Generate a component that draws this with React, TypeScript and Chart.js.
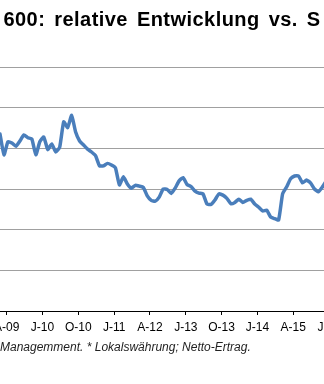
import { useEffect, useRef } from 'react';
import { Chart, registerables } from 'chart.js';

Chart.register(...registerables);

// ---- data ----
const titleText = '600: relative Entwicklung vs. S';
const footnoteText = 'Managemment. * Lokalswährung; Netto-Ertrag.';
const tickLabels = ['A-09', 'J-10', 'O-10', 'J-11', 'A-12', 'J-13', 'O-13', 'J-14', 'A-15', 'J-16'];
const firstTickMonth = 1.68; // month offset of the first tick from the first data point
const tickStepMonths = 9;
// monthly relative values (visible window)
const relValues = [
  103.5, 98.4, 101.6, 101.3, 100.5, 101.8, 103.3, 102.6, 102.3, 98.4,
  101.6, 102.8, 99.7, 101.1, 99.1, 100.3, 106.5, 105.1, 108.1, 104.0,
  101.8, 100.8, 99.8, 99.1, 98.2, 95.7, 95.7, 96.3, 95.9, 95.2,
  91.0, 93.0, 91.2, 90.2, 90.9, 90.7, 90.4, 88.3, 87.2, 87.0,
  88.0, 90.0, 89.9, 88.9, 90.2, 92.0, 92.8, 91.1, 90.6, 89.5,
  89.0, 88.8, 86.3, 86.2, 87.3, 88.8, 88.5, 87.7, 86.4, 86.7,
  87.5, 86.7, 87.2, 87.5, 86.3, 85.5, 84.6, 84.8, 83.1, 82.7,
  82.4, 88.8, 90.5, 92.5, 93.2, 93.2, 91.5, 92.2, 91.5, 90.0,
  89.3, 90.5, 92.0,
];
const xMin = 0;
const xMax = 81.4;
const yMin = 60;
const yMax = 120;
const yStep = 10;

const titleSpacingPlugin = {
  id: 'titleSpacing',
  afterLayout(chart: any) {
    const tb = chart.titleBlock;
    if (tb && !tb._spacedDraw) {
      const orig = tb.draw.bind(tb);
      tb.draw = (...args: any[]) => {
        const ctx = chart.ctx;
        ctx.save();
        ctx.letterSpacing = '0.45px';
        ctx.wordSpacing = '3px';
        orig(...args);
        ctx.restore();
      };
      tb._spacedDraw = true;
    }
  },
};

export default function App() {
  const ref = useRef<HTMLCanvasElement | null>(null);

  useEffect(() => {
    if (!ref.current) return;
    const points = relValues.map((v, i) => ({ x: i, y: v }));
    const tickValues = tickLabels.map((_, i) => firstTickMonth + i * tickStepMonths);
    const chart = new Chart(ref.current, {
      type: 'line',
      data: {
        datasets: [
          {
            data: points,
            borderColor: '#4a7ebb',
            borderWidth: 3.5,
            pointRadius: 0,
            tension: 0.15,
            borderJoinStyle: 'round',
            borderCapStyle: 'round',
            fill: false,
          },
        ],
      },
      plugins: [titleSpacingPlugin],
      options: {
        responsive: false,
        animation: false,
        layout: { padding: 0 },
        plugins: {
          legend: { display: false },
          tooltip: { enabled: false },
          title: {
            display: true,
            text: titleText,
            align: 'center',
            color: '#000',
            font: { family: 'Liberation Sans', size: 20, weight: 'bold', lineHeight: 1.2 },
            padding: { top: 8, bottom: 35 },
          },
          subtitle: {
            display: true,
            position: 'bottom',
            text: footnoteText,
            align: 'start',
            color: '#222',
            font: { family: 'Liberation Sans', size: 12, style: 'italic', lineHeight: 1.2 },
            padding: { top: 1.4, bottom: 28.8 },
          },
        },
        scales: {
          x: {
            type: 'linear',
            min: xMin,
            max: xMax,
            afterBuildTicks: (scale: any) => {
              scale.ticks = tickValues.map((v) => ({ value: v }));
            },
            afterFit: (scale: any) => {
              scale.paddingLeft = 0;
              scale.paddingRight = 0;
            },
            ticks: {
              autoSkip: false,
              maxRotation: 0,
              minRotation: 0,
              padding: 5,
              color: '#000',
              font: { family: 'Liberation Sans', size: 12 },
              callback: (_v: any, i: number) => tickLabels[i],
            },
            grid: {
              display: true,
              drawOnChartArea: false,
              drawTicks: true,
              tickLength: 4,
              color: '#000',
            },
            border: { display: true, color: '#000', width: 1 },
          },
          y: {
            min: yMin,
            max: yMax,
            ticks: { display: false, stepSize: yStep },
            grid: {
              drawTicks: false,
              color: (ctx: any) => (ctx.tick && ctx.tick.value === yMin ? 'rgba(0,0,0,0)' : '#a0a0a0'),
              lineWidth: 1,
            },
            border: { display: false },
            afterFit: (scale: any) => {
              scale.width = 0;
              scale.paddingTop = 0;
              scale.paddingBottom = 0;
            },
          },
        },
      },
    });
    return () => chart.destroy();
  }, []);

  return (
    <div style={{ position: 'absolute', left: 0, top: 0, width: 324, height: 384, background: '#fff' }}>
      <canvas ref={ref} width={324} height={384} />
    </div>
  );
}
